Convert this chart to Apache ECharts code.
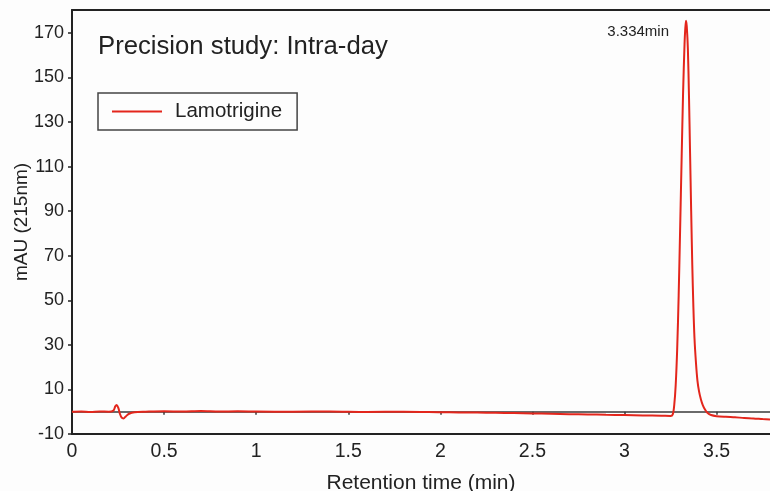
<!DOCTYPE html>
<html>
<head>
<meta charset="utf-8">
<style>
  html, body { margin: 0; padding: 0; background: #fdfdfd; }
  #chart { width: 770px; height: 491px; }
</style>
<script src="https://cdn.jsdelivr.net/npm/echarts@6/dist/echarts.min.js"></script>
</head>
<body>
<div id="chart"></div>
<script>
// Chromatogram of lamotrigine (intra-day precision run)
const seriesName = 'Lamotrigine';
const titleText = 'Precision study: Intra-day';
const peakTime = 3.334;
const peakHeight = 175.5;

// retention time (min)
const times = [
  0.00, 0.05, 0.10, 0.15, 0.20, 0.225, 0.235, 0.243, 0.252, 0.260,
  0.270, 0.280, 0.292, 0.310, 0.340, 0.40, 0.50, 0.60, 0.70, 0.80,
  0.90, 1.00, 1.20, 1.40, 1.60, 1.80, 2.00, 2.10, 2.20, 2.30,
  2.40, 2.50, 2.60, 2.70, 2.80, 2.90, 3.00, 3.10, 3.20, 3.250,
  3.262, 3.270, 3.278, 3.286, 3.294, 3.302, 3.310, 3.318, 3.326, 3.330,
  3.334, 3.338, 3.344, 3.350, 3.356, 3.362, 3.368, 3.374, 3.380, 3.388,
  3.396, 3.405, 3.415, 3.425, 3.437, 3.450, 3.470, 3.500, 3.550, 3.600,
  3.650, 3.700, 3.750, 3.790
];
// absorbance (mAU at 215 nm)
const absorbance = [
  0.0, 0.1, -0.1, 0.1, 0.0, 0.5, 2.4, 3.0, 1.6, -0.9,
  -2.7, -3.0, -2.1, -0.9, -0.2, 0.0, 0.2, 0.1, 0.3, 0.1,
  0.2, 0.1, 0.0, 0.1, -0.1, 0.0, -0.2, -0.3, -0.4, -0.5,
  -0.6, -0.8, -0.9, -1.1, -1.2, -1.4, -1.5, -1.7, -1.8, -1.9,
  -1.2, 3, 12, 28, 52, 82, 113, 143, 165, 172,
  175.5, 173, 163, 142, 116, 90, 66, 47, 33, 22,
  14, 9, 5.5, 3, 1, -0.5, -1.5, -2.0, -2.3, -2.5,
  -2.8, -3.0, -3.3, -3.5
];

const xTicks = [0, 0.5, 1, 1.5, 2, 2.5, 3, 3.5];
const yTicks = [-10, 10, 30, 50, 70, 90, 110, 130, 150, 170];
const xMin = 0, xMax = 3.79;
const yMin = -10, yMax = 180.3;

const font = "'Liberation Sans Narrow', 'Arial Narrow', 'Liberation Sans', Arial, sans-serif";
const ink = '#222';
const red = '#e3261c';

const data = times.map((t, i) => [t, absorbance[i]]);

const chart = echarts.init(document.getElementById('chart'), null, { renderer: 'canvas' });

const gridRect = { left: 72, top: 10, right: 0, bottom: 57, containLabel: false, outerBoundsMode: 'none' };

chart.setOption({
  backgroundColor: '#fdfdfd',
  animation: false,
  title: {
    text: titleText,
    left: 93, top: 29,
    textStyle: { fontFamily: font, fontSize: 25.7, fontWeight: 'normal', color: ink }
  },
  legend: {
    left: 98, top: 93,
    orient: 'horizontal',
    data: [seriesName],
    itemWidth: 50, itemHeight: 2,
    itemGap: 10,
    padding: [8, 15, 8, 14],
    borderColor: '#444', borderWidth: 1.5, borderRadius: 0,
    backgroundColor: '#fdfdfd',
    icon: 'rect',
    textStyle: { fontFamily: font, fontSize: 20.5, color: ink, padding: [0, 0, 0, 8] }
  },
  grid: [
    Object.assign({}, gridRect),
    Object.assign({}, gridRect)
  ],
  xAxis: [
    {
      // bottom axis carrying the labels
      type: 'value', gridIndex: 0, position: 'bottom',
      min: xMin, max: xMax,
      name: 'Retention time (min)', nameLocation: 'middle', nameGap: 39,
      nameMoveOverlap: false,
      nameTextStyle: { fontFamily: font, fontSize: 21, color: ink },
      axisLine: { onZero: false, lineStyle: { color: ink, width: 2 } },
      axisTick: { show: false },
      splitLine: { show: false },
      axisLabel: {
        customValues: xTicks, margin: 8,
        fontFamily: font, fontSize: 19.5, color: ink,
        formatter: v => String(v)
      }
    },
    {
      // top frame line
      type: 'value', gridIndex: 0, position: 'top',
      min: xMin, max: xMax,
      axisLine: { onZero: false, lineStyle: { color: ink, width: 2 } },
      axisTick: { show: false }, axisLabel: { show: false }, splitLine: { show: false }
    },
    {
      // zero baseline with tick marks
      type: 'value', gridIndex: 1, position: 'bottom',
      min: xMin, max: xMax,
      axisLine: { onZero: true, lineStyle: { color: '#3a3a3a', width: 1.5 } },
      axisTick: { customValues: xTicks.slice(1), length: 3, lineStyle: { color: '#3a3a3a', width: 1.5 } },
      axisLabel: { show: false }, splitLine: { show: false }
    }
  ],
  yAxis: [
    {
      type: 'value', gridIndex: 0,
      min: yMin, max: yMax,
      name: 'mAU (215nm)', nameLocation: 'middle', nameGap: 41, nameRotate: 90,
      nameMoveOverlap: false,
      nameTextStyle: { fontFamily: font, fontSize: 19, color: ink },
      axisLine: { show: true, onZero: false, lineStyle: { color: ink, width: 2 } },
      axisTick: { show: true, customValues: yTicks, length: 4, lineStyle: { color: ink, width: 1.5 } },
      axisLabel: {
        customValues: yTicks, margin: 8,
        fontFamily: font, fontSize: 18, color: ink
      },
      splitLine: { show: false }
    },
    {
      type: 'value', gridIndex: 1, show: false,
      min: yMin, max: yMax
    }
  ],
  series: [
    {
      name: seriesName,
      type: 'line',
      xAxisIndex: 0, yAxisIndex: 0,
      data: data,
      showSymbol: false,
      smooth: 0.3,
      z: 5,
      lineStyle: { color: red, width: 2 },
      itemStyle: { color: red },
      markPoint: {
        symbol: 'circle', symbolSize: 0,
        data: [{ coord: [peakTime, peakHeight], value: peakTime }],
        label: {
          show: true,
          formatter: p => p.value.toFixed(3) + 'min',
          position: 'left',
          offset: [-12, 11],
          fontFamily: font, fontSize: 15, color: ink
        }
      }
    }
  ]
});
</script>
</body>
</html>
